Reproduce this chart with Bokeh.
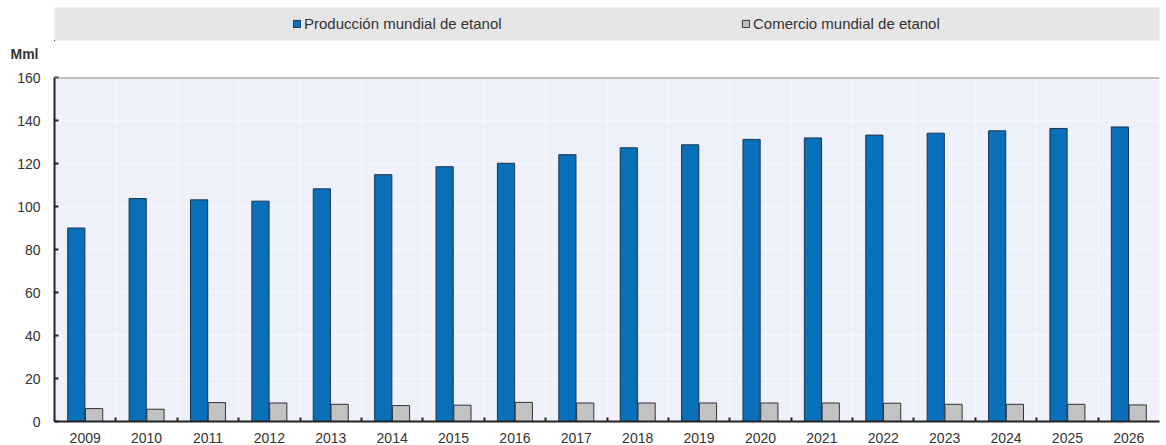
from bokeh.plotting import figure
from bokeh.models import (ColumnDataSource, Range1d, FixedTicker, Legend, LegendItem,
                          Title, Span)
from bokeh.transform import dodge
from bokeh.layouts import column
from bokeh.embed import file_html
from bokeh.resources import INLINE

years = [str(y) for y in range(2009, 2027)]
production = [90.0, 103.7, 103.1, 102.5, 108.2, 114.8, 118.5, 120.1, 124.1,
              127.3, 128.7, 131.2, 131.9, 133.2, 134.1, 135.2, 136.3, 137.0]
trade = [6.0, 5.7, 8.8, 8.6, 8.0, 7.4, 7.6, 8.9, 8.6,
         8.6, 8.6, 8.6, 8.6, 8.5, 8.0, 8.0, 8.0, 7.7]
series_names = ["Producción mundial de etanol", "Comercio mundial de etanol"]
y_ticks = [0, 20, 40, 60, 80, 100, 120, 140, 160]
unit_label = "Mml"

BLUE = "#0a6fb9"
GREY = "#c2c2c2"
TEXT = "#333333"
FONT = "Liberation Sans"

idx = list(range(len(years)))
src = ColumnDataSource(dict(x=idx, prod=production, trade=trade, year=years))

W = 1166
LEG_H = 64
MAIN_H = 445 - LEG_H
LEFT = 54

# ---------- legend band (+ unit label underneath) ----------
# the legend figure looks at an empty region of the data so only the key is visible
leg = figure(width=W, height=LEG_H, output_backend="svg", toolbar_location=None,
             x_range=Range1d(1000, 1001), y_range=Range1d(1000, 1001),
             min_border_left=LEFT, min_border_right=6, min_border_top=7, min_border_bottom=23,
             background_fill_color="#e6e6e6", border_fill_color="white",
             outline_line_color=None, title_location=None)
leg.xaxis.visible = False
leg.yaxis.visible = False
leg.xgrid.visible = False
leg.ygrid.visible = False
r1 = leg.vbar(x="x", top="prod", width=0.28, source=src, fill_color=BLUE,
              line_color="#1d3550", line_width=1)
r2 = leg.vbar(x="x", top="trade", width=0.28, source=src, fill_color=GREY,
              line_color="#333333", line_width=1)
legend = Legend(items=[LegendItem(label=series_names[0], renderers=[r1]),
                       LegendItem(label=series_names[1], renderers=[r2])],
                orientation="horizontal", location=(238, 8),
                padding=0, margin=0, spacing=0, label_width=437,
                glyph_width=9, glyph_height=9, label_standoff=3,
                label_text_font=FONT, label_text_font_size="15px", label_text_color=TEXT,
                background_fill_alpha=0, border_line_color=None)
leg.add_layout(legend, "center")
leg.add_layout(Title(text=unit_label, align="left", offset=-44, standoff=6,
                     text_font=FONT, text_font_size="14px", text_font_style="bold",
                     text_color=TEXT), "below")

# ---------- main chart ----------
p = figure(width=W, height=MAIN_H, output_backend="svg", toolbar_location=None,
           x_range=Range1d(-0.5, len(years) - 0.5), y_range=Range1d(0, 160),
           min_border_left=LEFT, min_border_right=7, min_border_top=77 - LEG_H,
           min_border_bottom=22,
           background_fill_color="#eef1f9", border_fill_color="white",
           outline_line_color=None, title_location=None)

p.vbar(x=dodge("x", -0.145, range=p.x_range), top="prod", width=0.28, source=src,
       fill_color=BLUE, line_color="#1d3550", line_width=1)
p.vbar(x=dodge("x", 0.145, range=p.x_range), top="trade", width=0.28, source=src,
       fill_color=GREY, line_color="#333333", line_width=1)

p.add_layout(Span(location=160, dimension="width", line_color="#8a8a8a", line_width=2))

# x axis: labels at centres, small ticks at category boundaries
p.xaxis.ticker = FixedTicker(ticks=idx, minor_ticks=[i + 0.5 for i in idx[:-1]])
p.xaxis.major_label_overrides = {i: y for i, y in zip(idx, years)}
p.xaxis.major_tick_line_color = None
p.xaxis.minor_tick_in = 4
p.xaxis.minor_tick_out = 0
p.xaxis.minor_tick_line_color = "#222222"
p.xaxis.minor_tick_line_width = 2
p.xaxis.axis_line_color = "#222222"
p.xaxis.axis_line_width = 2
p.xaxis.major_label_standoff = 5
p.xaxis.major_label_text_font = FONT
p.xaxis.major_label_text_font_size = "14px"
p.xaxis.major_label_text_color = TEXT

p.xgrid.ticker = FixedTicker(ticks=[i + 0.5 for i in idx[:-1]])
p.xgrid.grid_line_color = "#f7f8fc"
p.xgrid.grid_line_width = 1

p.yaxis.ticker = FixedTicker(ticks=y_ticks)
p.yaxis.major_tick_in = 4
p.yaxis.major_tick_out = 0
p.yaxis.major_tick_line_color = "#222222"
p.yaxis.major_tick_line_width = 2
p.yaxis.minor_tick_line_color = None
p.yaxis.axis_line_color = "#222222"
p.yaxis.axis_line_width = 2
p.yaxis.major_label_standoff = 14
p.yaxis.major_label_text_font = FONT
p.yaxis.major_label_text_font_size = "14px"
p.yaxis.major_label_text_color = TEXT

p.ygrid.grid_line_color = "#f7f8fc"
p.ygrid.grid_line_width = 1

layout = column(leg, p, spacing=0)
open("out.html", "w").write(file_html(layout, INLINE))
